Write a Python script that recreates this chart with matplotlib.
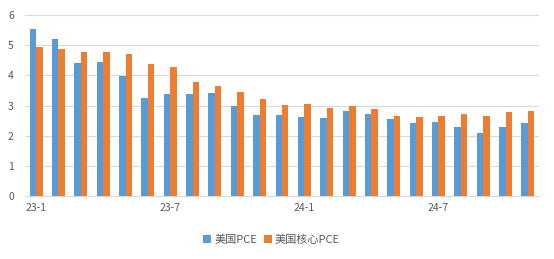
import matplotlib
matplotlib.use("Agg")
import matplotlib.pyplot as plt
import numpy as np

plt.rcParams['font.family'] = ['Noto Sans CJK SC', 'DejaVu Sans']

months = ["23-1","23-2","23-3","23-4","23-5","23-6","23-7","23-8","23-9","23-10","23-11","23-12",
          "24-1","24-2","24-3","24-4","24-5","24-6","24-7","24-8","24-9","24-10","24-11"]
pce = [5.54, 5.20, 4.41, 4.45, 3.98, 3.25, 3.38, 3.38, 3.41, 2.98, 2.69, 2.69,
       2.62, 2.59, 2.82, 2.72, 2.55, 2.42, 2.45, 2.29, 2.09, 2.29, 2.42]
core_pce = [4.94, 4.87, 4.77, 4.77, 4.72, 4.39, 4.28, 3.79, 3.65, 3.45, 3.22, 3.02,
            3.05, 2.92, 2.98, 2.88, 2.65, 2.62, 2.65, 2.72, 2.65, 2.78, 2.82]
series_names = ["美国PCE", "美国核心PCE"]
yticks = [0, 1, 2, 3, 4, 5, 6]

fig = plt.figure(figsize=(5.54, 2.59), dpi=100)
ax = fig.add_axes([0.045, 0.243, 0.928, 0.699])

x = np.arange(len(months))
w = 0.29
ax.bar(x - w/2, pce, width=w, color="#5B9BD5", label=series_names[0], zorder=3)
ax.bar(x + w/2, core_pce, width=w, color="#ED7D31", label=series_names[1], zorder=3)

ax.set_xlim(-0.5, len(months) - 0.5)
ax.set_ylim(0, 6)
ax.set_yticks(yticks)
ax.yaxis.grid(True, color="#D9D9D9", linewidth=0.8, zorder=0)
ax.set_axisbelow(True)
ax.set_xticks(x[::6])
ax.set_xticklabels(months[::6])
for s in ["top", "right", "left"]:
    ax.spines[s].set_visible(False)
ax.spines["bottom"].set_color("#D9D9D9")
ax.tick_params(axis="both", length=0, labelsize=7.5, colors="#595959")
ax.tick_params(axis="y", pad=8)
ax.tick_params(axis="x", pad=5)

leg = ax.legend(loc="upper center", bbox_to_anchor=(0.48, -0.155), ncol=2, frameon=False,
                fontsize=8, handlelength=0.7, handleheight=0.7, handletextpad=0.3,
                columnspacing=0.6)
for t in leg.get_texts():
    t.set_color("#595959")

fig.savefig("out.png", dpi=100)
